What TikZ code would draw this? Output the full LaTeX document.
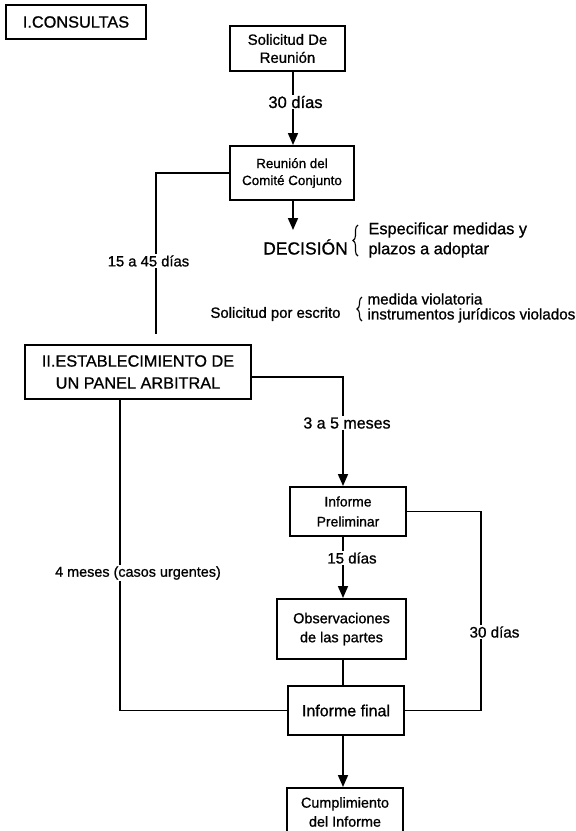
\documentclass[tikz,border=0pt]{standalone}
\usepackage{fontspec}
\setmainfont{Liberation Sans}[FakeBold=0.9]
\usetikzlibrary{arrows.meta,decorations.pathreplacing}
\newcommand{\tam}[2]{\fontsize{#1}{#2}\selectfont}

\begin{document}
\begin{tikzpicture}[x=1pt,y=-1pt,
		caja/.style={draw, line width=2pt, align=center, inner sep=0pt},
		linea/.style={line width=1.7pt},
		flecha/.style={line width=1.7pt, -{Triangle[length=12pt,width=10pt]}},
		etiq/.style={fill=white, inner sep=1pt},
		llave/.style={line width=1.1pt, decorate, decoration={brace, amplitude=5pt}}]
			%%%%% START %%%%%
			
			\fill[white] (0,0) rectangle (576,831);
			\useasboundingbox (0,0) rectangle (576,831);
			
			\node[caja, minimum width=140pt, minimum height=34pt, font=\tam{16.3}{19}] (consultas) at (76,22) {I.CONSULTAS};
			\node[caja, minimum width=115pt, minimum height=45pt, font=\tam{14.9}{18}] (solreu) at (287.5,48.5) {Solicitud De\\Reunión};
			\node[caja, minimum width=124pt, minimum height=54pt, font=\tam{13.4}{17}] (comite) at (292,173) {Reunión del\\Comité Conjunto};
			
			\node[font=\tam{17.5}{20}] (decision) at (305.5,247) {DECISIÓN};
			\node[anchor=west, align=left, font=\tam{16.3}{20}] (especificar) at (365,240) {Especificar medidas y\\plazos a adoptar};
			
			\node[font=\tam{14.9}{17}] (solesc) at (275.5,314) {Solicitud por escrito};
			\node[anchor=west, align=left, font=\tam{15.2}{15}] (medida) at (364,308) {medida violatoria\\instrumentos jurídicos violados};
			
			\node[caja, minimum width=226pt, minimum height=54pt, font=\tam{16.3}{22}] (panel) at (138,372) {II.ESTABLECIMIENTO DE\\UN PANEL ARBITRAL};
			\node[caja, minimum width=116pt, minimum height=49pt, font=\tam{13.9}{20}] (prelim) at (348,511.5) {Informe\\Preliminar};
			\node[caja, minimum width=129pt, minimum height=60pt, font=\tam{14.5}{19}] (obs) at (341.5,629) {Observaciones\\de las partes};
			\node[caja, minimum width=116pt, minimum height=49pt, font=\tam{16}{19}] (final) at (346,710.5) {Informe final};
			\node[caja, minimum width=116pt, minimum height=48pt, font=\tam{14.4}{19}] (cumpl) at (345,812) {Cumplimiento\\del Informe};
			
			\coordinate (colA) at (293,0);
			\coordinate (colB) at (343,0);
			\coordinate (puntaDec) at (293,230);
			\coordinate (codo1) at (156,334);
			\coordinate (codo2) at (120,0);
			\coordinate (codo3) at (343,377);
			\coordinate (codo4) at (481,0);
			
			\draw[flecha] (solreu.south -| colA) -- (comite.north -| colA);
			\draw[flecha] (comite.south -| colA) -- (puntaDec);
			\draw[linea] (comite.west) -| (codo1);
			\draw[linea] (panel.south -| codo2) |- (final.west);
			\draw[flecha] (panel.east |- codo3) -- (codo3) -- (prelim.north -| codo3);
			\draw[linea] (prelim.east) -| (codo4 |- final.east) -- (final.east);
			\draw[flecha] (prelim.south -| colB) -- (obs.north -| colB);
			\draw[linea] (obs.south -| colB) -- (final.north -| colB);
			\draw[flecha] (final.south -| colB) -- (cumpl.north -| colB);
			
			% llaves
			\coordinate (ll1a) at (358,256);
			\coordinate (ll1b) at (358,225);
			\coordinate (ll2a) at (362,321);
			\coordinate (ll2b) at (362,297);
			\draw[llave] (ll1a) -- (ll1b);
			\draw[llave] (ll2a) -- (ll2b);
			
			\node[etiq, font=\tam{16.5}{18}] (t30a) at (295.5,102) {30 días};
			\node[etiq, font=\tam{14.8}{17}] (t1545) at (148.5,261) {15 a 45 días};
			\node[etiq, font=\tam{16}{18}] (t35) at (347,423) {3 a 5 meses};
			\node[etiq, font=\tam{15}{17}] (t15) at (352,558) {15 días};
			\node[etiq, font=\tam{14.4}{17}] (t4m) at (138,573) {4 meses (casos urgentes)};
			\node[etiq, font=\tam{15.2}{17}] (t30b) at (494.5,632) {30 días};
			
			%%%%% END %%%%%
\end{tikzpicture}
\end{document}
